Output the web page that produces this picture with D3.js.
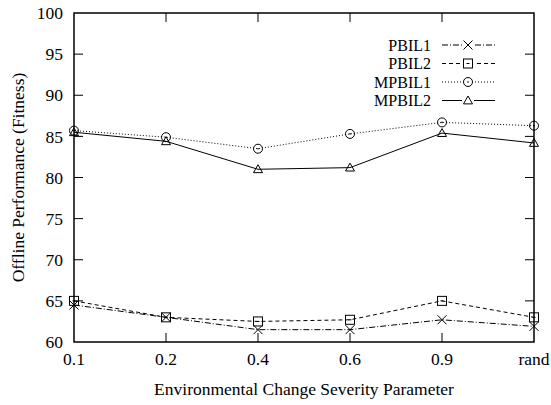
<!DOCTYPE html>
<html>
<head>
<meta charset="utf-8">
<script src="https://cdn.jsdelivr.net/npm/d3@7"></script>
<style>
  body { margin: 0; background: #fff; }
  text { font-family: "Liberation Serif", "Times New Roman", serif; fill: #000; }
</style>
</head>
<body>
<svg width="551" height="405"></svg>
<script>
const categories = ["0.1", "0.2", "0.4", "0.6", "0.9", "rand"];
const yTicks = [60, 65, 70, 75, 80, 85, 90, 95, 100];

const pbil1 = [64.5, 63.0, 61.5, 61.5, 62.7, 61.9];
const pbil2 = [65.0, 63.0, 62.5, 62.7, 65.0, 63.0];
const mpbil1 = [85.7, 84.9, 83.5, 85.3, 86.7, 86.3];
const mpbil2 = [85.5, 84.4, 81.0, 81.2, 85.4, 84.2];

const series = [
    { name: "PBIL1", values: pbil1, dash: "6,2,1,2", symbol: "cross" },
    { name: "PBIL2", values: pbil2, dash: "4,3", symbol: "square" },
    { name: "MPBIL1", values: mpbil1, dash: "1,2", symbol: "circle" },
    { name: "MPBIL2", values: mpbil2, dash: null, symbol: "triangle" }
];

const margin = { top: 13, right: 17, bottom: 63, left: 74 };
const width = 551 - margin.left - margin.right;
const height = 405 - margin.top - margin.bottom;

const svg = d3.select("svg");
const g = svg.append("g").attr("transform", `translate(${margin.left},${margin.top})`);

const x = d3.scalePoint().domain(categories).range([0, width]);
const y = d3.scaleLinear().domain([60, 100]).range([height, 0]);

// frame
g.append("rect")
    .attr("width", width).attr("height", height)
    .attr("fill", "none").attr("stroke", "#000").attr("stroke-width", 1.5);

const tickLen = 9;

// y ticks left and right (inward)
yTicks.forEach(t => {
    if (t === 60 || t === 100) return;
    g.append("line").attr("x1", 0).attr("x2", tickLen).attr("y1", y(t)).attr("y2", y(t))
        .attr("stroke", "#000").attr("stroke-width", 1);
    g.append("line").attr("x1", width).attr("x2", width - tickLen).attr("y1", y(t)).attr("y2", y(t))
        .attr("stroke", "#000").attr("stroke-width", 1);
});
yTicks.forEach(t => {
    g.append("text").attr("x", -11).attr("y", y(t)).attr("dy", "0.35em")
        .attr("text-anchor", "end").style("font-size", "17.5px").text(t);
});

// x ticks bottom and top (inward)
categories.forEach((c, i) => {
    if (i > 0 && i < categories.length - 1) {
        g.append("line").attr("x1", x(c)).attr("x2", x(c)).attr("y1", height).attr("y2", height - tickLen)
            .attr("stroke", "#000").attr("stroke-width", 1);
        g.append("line").attr("x1", x(c)).attr("x2", x(c)).attr("y1", 0).attr("y2", tickLen)
            .attr("stroke", "#000").attr("stroke-width", 1);
    }
    g.append("text").attr("x", x(c)).attr("y", height + 23)
        .attr("text-anchor", "middle").style("font-size", "17.5px").text(c);
});

// axis titles
svg.append("text")
    .attr("x", margin.left + width / 2).attr("y", 395)
    .attr("text-anchor", "middle").style("font-size", "17.5px")
    .text("Environmental Change Severity Parameter");

svg.append("text")
    .attr("transform", `translate(24,${margin.top + height / 2}) rotate(-90)`)
    .attr("text-anchor", "middle").style("font-size", "17.5px")
    .text("Offline Performance (Fitness)");

function drawSymbol(sel, sym, cx, cy) {
    const s = 4.5;
    if (sym === "cross") {
        sel.append("path").attr("d", `M${cx - s},${cy - s}L${cx + s},${cy + s}M${cx - s},${cy + s}L${cx + s},${cy - s}`)
            .attr("stroke", "#000").attr("fill", "none");
    } else if (sym === "square") {
        sel.append("rect").attr("x", cx - s).attr("y", cy - s).attr("width", 2 * s).attr("height", 2 * s)
            .attr("stroke", "#000").attr("fill", "none");
        sel.append("line").attr("x1", cx - 1.5).attr("x2", cx + 1.5).attr("y1", cy).attr("y2", cy)
            .attr("stroke", "#000");
    } else if (sym === "circle") {
        sel.append("circle").attr("cx", cx).attr("cy", cy).attr("r", s)
            .attr("stroke", "#000").attr("fill", "none");
        sel.append("circle").attr("cx", cx).attr("cy", cy).attr("r", 0.8).attr("fill", "#000");
    } else {
        sel.append("path").attr("d", `M${cx},${cy - s}L${cx + s},${cy + s * 0.75}L${cx - s},${cy + s * 0.75}Z`)
            .attr("stroke", "#000").attr("fill", "none");
    }
}

const line = d3.line().x((d, i) => x(categories[i])).y(d => y(d));

series.forEach(s => {
    g.append("path")
        .datum(s.values)
        .attr("d", line)
        .attr("fill", "none")
        .attr("stroke", "#000")
        .attr("stroke-width", 1)
        .attr("stroke-dasharray", s.dash);
    s.values.forEach((v, i) => drawSymbol(g, s.symbol, x(categories[i]), y(v)));
});

// legend
const legend = svg.append("g").attr("id", "legend");
series.forEach((s, i) => {
    const ly = 45 + i * 18.5;
    legend.append("text").attr("x", 431).attr("y", ly).attr("dy", "0.35em")
        .attr("text-anchor", "end").style("font-size", "16px").text(s.name);
    legend.append("line").attr("x1", 442).attr("x2", 495).attr("y1", ly).attr("y2", ly)
        .attr("stroke", "#000").attr("stroke-width", 1).attr("stroke-dasharray", s.dash);
    legend.append("rect").attr("x", 462).attr("y", ly - 6).attr("width", 12).attr("height", 12).attr("fill", "#fff");
    drawSymbol(legend, s.symbol, 468, ly);
});
</script>
</body>
</html>
